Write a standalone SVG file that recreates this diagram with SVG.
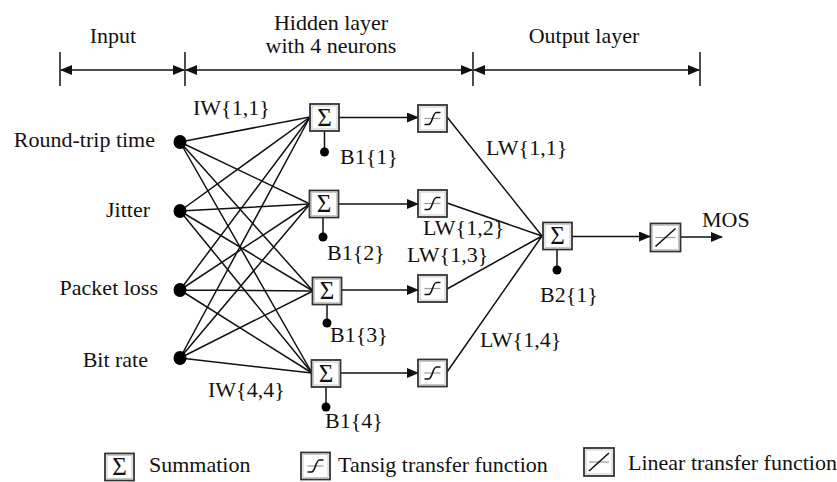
<svg xmlns="http://www.w3.org/2000/svg" width="837" height="482" viewBox="0 0 837 482" font-family="Liberation Serif, DejaVu Serif, serif">
<defs>
<marker id="ah" markerWidth="12" markerHeight="10" refX="11" refY="5" orient="auto" markerUnits="userSpaceOnUse">
<path d="M0,0 L12,5 L0,10 Z" fill="#111"/>
</marker>
<marker id="ahs" markerWidth="12" markerHeight="10" refX="11" refY="5" orient="auto-start-reverse" markerUnits="userSpaceOnUse">
<path d="M0,0 L12,5 L0,10 Z" fill="#111"/>
</marker>
<g id="sig">
<rect x="-14.5" y="-13.5" width="29" height="27" fill="#fff" stroke="#333" stroke-width="1.8"/>
<rect x="-12.5" y="-11.5" width="25" height="23" fill="none" stroke="#bbb" stroke-width="0.8"/>
<text class="sg" x="0" y="8" text-anchor="middle">Σ</text>
</g>
<g id="tan">
<rect x="-14.5" y="-13.5" width="29" height="27" fill="#fff" stroke="#333" stroke-width="1.8"/>
<rect x="-12.5" y="-11.5" width="25" height="23" fill="none" stroke="#bbb" stroke-width="0.8"/>
<line x1="-8" y1="0" x2="8" y2="0" stroke="#999" stroke-width="1.2"/>
<path d="M-8,6 L-4,6 C0,6 0,-6 4,-6 L8,-6" fill="none" stroke="#111" stroke-width="1.6"/>
</g>
<g id="lin">
<rect x="-15" y="-14" width="30" height="28" fill="#fff" stroke="#333" stroke-width="1.8"/>
<rect x="-13" y="-12" width="26" height="24" fill="none" stroke="#bbb" stroke-width="0.8"/>
<line x1="-10" y1="0" x2="10" y2="0" stroke="#999" stroke-width="1.2"/>
<line x1="-10" y1="9" x2="10" y2="-9" stroke="#111" stroke-width="1.6"/>
</g>
</defs>
<style>
text{font-family:'Liberation Serif','DejaVu Serif',serif;font-size:22px;fill:#111}
text.sg{font-size:25px}
.c line,.c path{stroke:#111;stroke-width:1.5;fill:none}
.arr{marker-end:url(#ah)}
.br{stroke:#111;stroke-width:1.5}
</style>
<rect width="837" height="482" fill="#fff"/>

<g id="brackets">
<line class="br" x1="60" y1="52" x2="60" y2="86"/>
<line class="br" x1="185" y1="52" x2="185" y2="86"/>
<line class="br" x1="473" y1="52" x2="473" y2="86"/>
<line class="br" x1="700" y1="52" x2="700" y2="86"/>
<line class="br" x1="61" y1="70" x2="184" y2="70" marker-start="url(#ahs)" marker-end="url(#ah)"/>
<line class="br" x1="186" y1="70" x2="472" y2="70" marker-start="url(#ahs)" marker-end="url(#ah)"/>
<line class="br" x1="474" y1="70" x2="699" y2="70" marker-start="url(#ahs)" marker-end="url(#ah)"/>
<text x="113" y="43" text-anchor="middle">Input</text>
<text x="331" y="30" text-anchor="middle">Hidden layer</text>
<text x="331" y="53" text-anchor="middle">with 4 neurons</text>
<text x="584" y="43" text-anchor="middle">Output layer</text>
</g>

<g class="c" id="connectors">
<path d="M180,142 L310,117 M180,142 L310,204 M180,142 L313,291 M180,142 L312,373"/>
<path d="M180,211 L310,117 M180,211 L310,204 M180,211 L313,291 M180,211 L312,373"/>
<path d="M180,290 L310,117 M180,290 L310,204 M180,290 L313,291 M180,290 L312,373"/>
<path d="M180,358 L310,117 M180,358 L310,204 M180,358 L313,291 M180,358 L312,373"/>
<line class="arr" x1="339" y1="117.5" x2="418" y2="117.5"/>
<line class="arr" x1="338" y1="204" x2="418" y2="204"/>
<line class="arr" x1="341" y1="290" x2="418" y2="290"/>
<line class="arr" x1="340" y1="373" x2="418" y2="373"/>
<path d="M447,117 L542,236 M447,203 L542,236 M447,289 L542,236 M447,372 L542,236"/>
<line class="arr" x1="572" y1="236.5" x2="650" y2="236.5"/>
<line class="arr" x1="681" y1="237" x2="722" y2="237"/>
<path d="M324.5,131 L324.5,152 M323,218 L323,237 M327,305 L327,323 M326,387 L326,407 M557,250 L557,270"/>
</g>

<g id="inputs">
<g id="in1"><ellipse cx="180" cy="142" rx="6.5" ry="7" fill="#000"/><text x="155" y="147" text-anchor="end">Round-trip time</text></g>
<g id="in2"><ellipse cx="180" cy="211" rx="6.5" ry="7" fill="#000"/><text x="150" y="217" text-anchor="end">Jitter</text></g>
<g id="in3"><ellipse cx="180" cy="290" rx="6.5" ry="7" fill="#000"/><text x="158" y="295" text-anchor="end">Packet loss</text></g>
<g id="in4"><ellipse cx="180" cy="358" rx="6.5" ry="7" fill="#000"/><text x="148" y="367" text-anchor="end">Bit rate</text></g>
</g>

<g id="hidden">
<g id="s1"><use href="#sig" x="324.5" y="117.5"/><circle cx="324.5" cy="152" r="4.5" fill="#000"/><text x="340" y="164">B1{1}</text></g>
<g id="s2"><use href="#sig" x="324" y="204"/><circle cx="323" cy="237" r="4.5" fill="#000"/><text x="327" y="260">B1{2}</text></g>
<g id="s3"><use href="#sig" x="327" y="291"/><circle cx="327" cy="323" r="4.5" fill="#000"/><text x="330" y="342">B1{3}</text></g>
<g id="s4"><use href="#sig" x="326" y="373.5"/><circle cx="326" cy="407" r="4.5" fill="#000"/><text x="325" y="428">B1{4}</text></g>
<g id="t1"><use href="#tan" x="432.5" y="118.5"/></g>
<g id="t2"><use href="#tan" x="432.5" y="203.5"/></g>
<g id="t3"><use href="#tan" x="432.5" y="288.5"/></g>
<g id="t4"><use href="#tan" x="432.5" y="373"/></g>
</g>

<g id="weights">
<text x="193" y="115">IW{1,1}</text>
<text x="208" y="397">IW{4,4}</text>
<text x="486" y="155">LW{1,1}</text>
<text x="423" y="235">LW{1,2}</text>
<text x="407" y="262">LW{1,3}</text>
<text x="480" y="347">LW{1,4}</text>
</g>

<g id="output">
<g id="so"><use href="#sig" x="557.5" y="236"/><circle cx="557" cy="270" r="4.5" fill="#000"/><text x="540" y="302">B2{1}</text></g>
<g id="lo"><use href="#lin" x="665.5" y="237.5"/></g>
<text x="702" y="227">MOS</text>
</g>

<g id="legend">
<g id="lg1"><use href="#sig" x="119.5" y="467"/><text x="149" y="472">Summation</text></g>
<g id="lg2"><use href="#tan" x="315.5" y="466"/><text x="338" y="472">Tansig transfer function</text></g>
<g id="lg3"><use href="#lin" x="599" y="462"/><text x="628" y="470">Linear transfer function</text></g>
</g>
</svg>
